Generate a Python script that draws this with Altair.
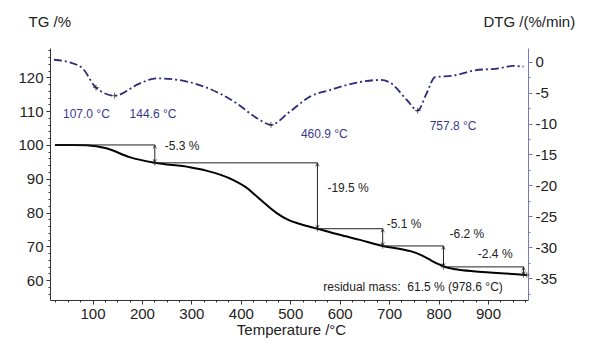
import altair as alt
import pandas as pd

# ---------------- data ----------------
TG_T = [24, 60, 88, 128, 175, 226, 297, 330, 358, 385, 410, 432, 450, 472, 495,
        520, 555, 600, 641, 687, 720, 745, 765, 785, 800, 815, 835, 870, 910,
        950, 978.6]
TG_V = [100, 100, 99.9, 99.0, 96.4, 94.7, 93.4, 92.4, 91.2, 89.6, 87.5, 84.8,
        82.5, 79.9, 77.9, 76.6, 75.2, 73.4, 71.9, 70.1, 69.3, 68.5, 67.4, 65.8,
        64.7, 63.8, 63.2, 62.6, 62.2, 61.8, 61.5]

DTG_T = [22, 61, 80, 107.0, 144.6, 196, 229, 263, 331, 391, 432, 460.9, 499,
         540, 580, 628, 682, 702, 736, 757.8, 776, 793, 830, 870, 924, 951, 972]
DTG_V = [0.3, -0.3, -1.1, -4.2, -5.5, -3.5, -2.7, -2.85, -4.2, -6.7, -9.1,
         -10.2, -8.1, -5.65, -4.6, -3.5, -2.96, -3.4, -6.2, -7.9, -5.1, -2.5,
         -2.26, -1.45, -1.07, -0.7, -0.8]

PEAK_T = [107.0, 144.6, 460.9, 757.8]
PEAK_V = [-4.2, -5.5, -10.2, -7.9]

STEP_LEVELS = [100, 94.7, 75.2, 70.1, 63.9, 61.5]
STEP_T = [226, 555, 687, 810, 972]
RESIDUAL_T = 978.6
RESIDUAL_V = 61.5

LEFT_TICKS = list(range(56, 129, 2))
RIGHT_TICKS = [v * 2.5 for v in range(-15, 1)]
X_TICKS = list(range(25, 981, 25))

FONT = "Liberation Sans"
NAVY = "#2c2c7c"

tg_df = pd.DataFrame({"T": TG_T, "TG": TG_V})
dtg_df = pd.DataFrame({"T": DTG_T, "DTG": DTG_V})
peak_df = pd.DataFrame({"T": PEAK_T, "DTG": PEAK_V,
                        "label": [f"{t:.1f} °C" for t in PEAK_T]})

starts = [TG_T[0]] + STEP_T[:-1]
hseg_df = pd.DataFrame({"T": starts, "T2": STEP_T, "TG": STEP_LEVELS[:-1]})
vseg_df = pd.DataFrame({"T": STEP_T, "TG": STEP_LEVELS[:-1], "TG2": STEP_LEVELS[1:],
                        "label": [f"{b - a:.1f} %" for a, b in zip(STEP_LEVELS[:-1], STEP_LEVELS[1:])]})

xs = alt.Scale(domain=[14, 981], nice=False, zero=False)
ys_tg = alt.Scale(domain=[54.1, 128.7], nice=False, zero=False)
ys_dtg = alt.Scale(domain=[-38.5, 2.2], nice=False, zero=False)


def tick_size(step):
    return {"condition": {"test": f"datum.value % {step} != 0", "value": 2}, "value": 4}


x_axis = alt.Axis(
    values=X_TICKS, tickCount=200, labelExpr="datum.value % 100 == 0 ? '' + datum.value : ''",
    tickSize=tick_size(100),
    labelPadding=2, labelFontSize=15, labelColor="#222", labelOverlap=False,
    domainColor="#333", tickColor="#333", grid=False,
    title="Temperature /°C", titleFontSize=15, titleFontWeight="normal", titleColor="#222",
    titleBaseline="alphabetic", titleY=34, titleX=241, titleAlign="center")

tg_axis = alt.Axis(
    orient="left", values=LEFT_TICKS, tickCount=200,
    labelExpr="datum.value % 10 == 0 ? '' + datum.value : ''",
    tickSize=tick_size(10), labelPadding=3, labelFontSize=15, labelColor="#222",
    labelOverlap=False, domainColor="#333", tickColor="#333", grid=False,
    title="TG /%", titleAngle=0, titleAlign="left", titleBaseline="alphabetic",
    titleX=-22, titleY=-22, titleFontSize=15, titleFontWeight="normal", titleColor="#222")

dtg_axis = alt.Axis(
    orient="right", values=RIGHT_TICKS, tickCount=200,
    labelExpr="datum.value % 5 == 0 ? '' + datum.value : ''",
    tickSize=tick_size(5), labelPadding=3, labelFontSize=15, labelColor="#222",
    labelOverlap=False, domainColor="#7a7ab8", tickColor="#7a7ab8", grid=False,
    title="DTG /(%/min)", titleAngle=0, titleAlign="left", titleBaseline="alphabetic",
    titleX=-45, titleY=-22, titleFontSize=15, titleFontWeight="normal", titleColor="#222")

X = lambda: alt.X("T:Q", scale=xs)
YT = lambda f="TG:Q": alt.Y(f, scale=ys_tg)
YD = lambda f="DTG:Q": alt.Y(f, scale=ys_dtg)

# ---------------- TG group ----------------
tg_line = alt.Chart(tg_df).mark_line(color="black", strokeWidth=2, interpolate="monotone").encode(
    x=alt.X("T:Q", scale=xs, axis=x_axis),
    y=alt.Y("TG:Q", scale=ys_tg, axis=tg_axis))

hseg = alt.Chart(hseg_df).mark_rule(color="#222", strokeWidth=1).encode(
    x=X(), x2="T2:Q", y=YT())

vseg = alt.Chart(vseg_df).mark_rule(color="#222", strokeWidth=1).encode(
    x=X(), y=YT(), y2="TG2:Q")

head_up = alt.Chart(vseg_df).mark_point(
    shape="M-0.6,1.3L0,0L0.6,1.3", size=30, filled=False, color="#222", strokeWidth=1).encode(
    x=X(), y=YT())
head_dn = alt.Chart(vseg_df).mark_point(
    shape="M-0.6,-1.3L0,0L0.6,-1.3", size=30, filled=False, color="#222", strokeWidth=1).encode(
    x=X(), y=YT("TG2:Q"))

tg_cross = alt.Chart(vseg_df).mark_point(
    shape="M-1,0H1M0,-1V1", size=30, filled=False, color="#222", strokeWidth=1).encode(
    x=X(), y=YT("TG2:Q"))

step_offsets = [(10, 5.5, "left"), (10, 29, "left"), (4, -1, "left"),
                (6, -8, "left"), (-11, -9, "right")]
step_texts = []
for i, (dx, dy, al) in enumerate(step_offsets):
    step_texts.append(
        alt.Chart(vseg_df.iloc[[i]]).mark_text(
            font=FONT, fontSize=12, color="#222", align=al, baseline="alphabetic",
            dx=dx, dy=dy).encode(x=X(), y=YT(), text="label:N"))

res_df = pd.DataFrame({"T": [RESIDUAL_T], "TG": [RESIDUAL_V],
                       "label": [f"residual mass:\u00a0 {RESIDUAL_V:.1f} % ({RESIDUAL_T:.1f} °C)"]})
res_text = alt.Chart(res_df).mark_text(
    font=FONT, fontSize=12, color="#222", align="right", baseline="alphabetic",
    dx=-24, dy=16).encode(x=X(), y=YT(), text="label:N")
res_cross = alt.Chart(res_df).mark_point(
    shape="M-1,0H1M0,-1V1", size=30, filled=False, color="#222", strokeWidth=1).encode(
    x=X(), y=YT())

tg_group = alt.layer(tg_line, hseg, vseg, head_up, head_dn, tg_cross, res_cross,
                     res_text, *step_texts)

# ---------------- DTG group ----------------
dtg_line = alt.Chart(dtg_df).mark_line(
    color=NAVY, strokeWidth=1.8, strokeDash=[8, 3, 2, 3], interpolate="monotone").encode(
    x=X(), y=alt.Y("DTG:Q", scale=ys_dtg, axis=dtg_axis))

dtg_cross = alt.Chart(peak_df).mark_point(
    shape="M-1,0H1M0,-1V1", size=35, filled=False, color="#222", strokeWidth=1).encode(
    x=X(), y=YD())

peak_offsets = [(-33, 30), (15, 22), (30, 13), (12, 19.5)]
peak_texts = []
for i, (dx, dy) in enumerate(peak_offsets):
    peak_texts.append(
        alt.Chart(peak_df.iloc[[i]]).mark_text(
            font=FONT, fontSize=12, color="#3a3a8c", align="left", baseline="alphabetic",
            dx=dx, dy=dy).encode(x=X(), y=YD(), text="label:N"))

dtg_group = alt.layer(dtg_line, dtg_cross, *peak_texts)

chart = alt.layer(tg_group, dtg_group).resolve_scale(y="independent").properties(
    width=478, height=252,
    autosize=alt.AutoSizeParams(type="none"),
    padding={"left": 50, "top": 48, "right": 63, "bottom": 52},
    background="white",
).configure(font=FONT).configure_view(strokeWidth=0)

chart.save("out.html", embed_options={"renderer": "svg", "actions": False})
